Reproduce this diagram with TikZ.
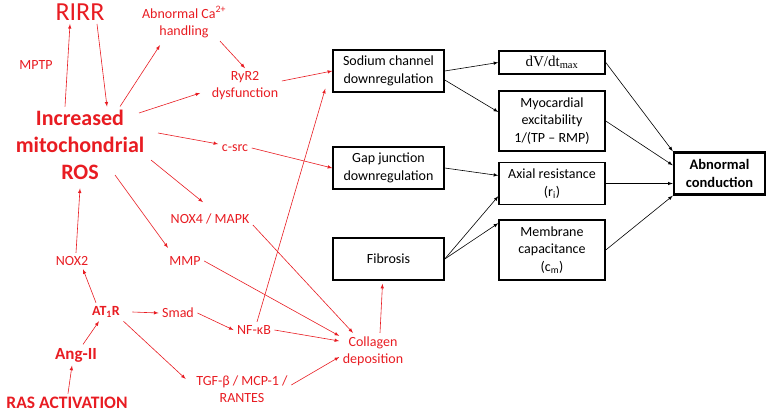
\documentclass[tikz,border=0pt]{standalone}
\usepackage{fontspec}
\setmainfont{Carlito}
\newfontfamily\timesfont{Liberation Serif}
\usetikzlibrary{arrows}
\definecolor{pathred}{RGB}{232,28,34}

\begin{document}
\begin{tikzpicture}[>=latex,x=1pt,y=-1pt,line width=0.6pt,
  redlbl/.style={text=pathred,align=center,font=\fontsize{14}{17}\selectfont},
  cellbox/.style={draw,line width=1.5pt,align=center,minimum width=111pt,minimum height=42pt,inner sep=2pt,font=\fontsize{14}{17.5}\selectfont},
  redlink/.style={->,pathred},
  blklink/.style={->,black}]
\useasboundingbox (0,0) rectangle (768,414);
\node[redlbl,font=\fontsize{26}{30}\selectfont] (rirr) at (80,12) {RIRR};
\node[redlbl] (mptp) at (36,65) {MPTP};
\node[redlbl] (ca) at (184,22) {Abnormal Ca\textsuperscript{2+}\\handling};
\node[redlbl] (ryr) at (245,86) {RyR2\\dysfunction};
\node[redlbl,font=\bfseries\fontsize{22}{27}\selectfont] (ros) at (80,145) {Increased\\mitochondrial\\ROS};
\node[redlbl] (csrc) at (235,148) {c-src};
\node[redlbl] (nox4) at (210,219) {NOX4 / MAPK};
\node[redlbl] (nox2) at (72,261) {NOX2};
\node[redlbl] (mmp) at (185,261) {MMP};
\node[redlbl,font=\bfseries\fontsize{14}{17}\selectfont] (at1r) at (106,312) {AT\textsubscript{1}R};
\node[redlbl] (smad) at (178,313) {Smad};
\node[redlbl] (nfkb) at (254,330) {NF-κB};
\node[redlbl,font=\bfseries\fontsize{17}{20}\selectfont] (ang) at (76,355) {Ang-II};
\node[redlbl] (tgf) at (242,389) {TGF-β / MCP-1 /\\RANTES};
\node[redlbl,font=\bfseries\fontsize{17.5}{21}\selectfont] (ras) at (67,403) {RAS ACTIVATION};
\node[redlbl] (col) at (373,351) {Collagen\\deposition};
\node[cellbox] (sod) at (388.5,71) {Sodium channel\\downregulation};
\node[cellbox] (gap) at (388.5,168) {Gap junction\\downregulation};
\node[cellbox] (fib) at (388.5,259) {Fibrosis};
\node[cellbox,minimum width=106pt,minimum height=23pt,font=\timesfont\fontsize{15}{17}\selectfont] (dv) at (552,62.5) {dV/dt\textsubscript{max}};
\node[cellbox,minimum width=106pt,minimum height=60pt] (myo) at (552,121) {Myocardial\\excitability\\1/(TP – RMP)};
\node[cellbox,minimum width=106pt] (ax) at (552,183.5) {Axial resistance\\(r\textsubscript{i})};
\node[cellbox,minimum width=106pt,minimum height=60pt] (mem) at (552,250) {Membrane\\capacitance\\(c\textsubscript{m})};
\node[cellbox,line width=2.5pt,minimum width=91pt,font=\bfseries\fontsize{14.5}{17.5}\selectfont] (abn) at (719.5,173.5) {Abnormal\\conduction};
% red pathway
\draw[redlink] ([xshift=-15pt]ros.north) -- ([xshift=-10pt]rirr.south);
\draw[redlink] ([xshift=17pt]rirr.south) -- ([xshift=27pt]ros.north);
\draw[redlink] ([xshift=40pt]ros.north) -- ([xshift=-24pt,yshift=-4pt]ca.south);
\draw[redlink] ([xshift=36pt]ca.south) -- (ryr.north);
\draw[redlink] ([xshift=59pt,yshift=32pt]ros.center) -- ([xshift=-8pt,yshift=-7pt]ryr.west);
\draw[redlink] ([yshift=5pt]ryr.east) -- (sod.west);
\draw[redlink] ([xshift=78pt,yshift=12pt]ros.center) -- ([yshift=4pt]csrc.west);
\draw[redlink] (csrc.east) -- (gap.west);
\draw[redlink] ([xshift=71pt,yshift=-15pt]ros.center) -- ([xshift=-7pt,yshift=8pt]nox4.north);
\draw[redlink] ([xshift=35pt,yshift=-30pt]ros.center) -- ([xshift=-17pt,yshift=5pt]mmp.north);
\draw[redlink] ([yshift=-6pt]nox4.east) -- ([xshift=-20pt]col.north);
\draw[redlink] (mmp.east) -- ([yshift=-3pt]col.north west);
\draw[redlink] (nfkb.east) -- ([yshift=10pt]col.west);
\draw[redlink] ([yshift=4pt]tgf.east) -- ([yshift=-6pt]col.west);
\draw[redlink] ([xshift=3pt]nfkb.north) -- ([xshift=-7pt,yshift=4pt]sod.south west);
\draw[redlink] ([xshift=7pt]col.north) -- ([xshift=-6pt,yshift=-3pt]fib.south);
\draw[redlink] ([xshift=4pt]nox2.north) -- ([yshift=-5pt]ros.south);
\draw[redlink] ([xshift=-10pt]at1r.north) -- ([xshift=11pt]nox2.south);
\draw[redlink] ([xshift=9pt]at1r.east) -- (smad.west);
\draw[redlink] (smad.east) -- (nfkb.west);
\draw[redlink] (at1r.south east) -- ([xshift=-7pt,yshift=-7pt]tgf.north west);
\draw[redlink] ([xshift=7pt]ang.north) -- ([xshift=-7pt]at1r.south);
\draw[redlink] ([xshift=1pt]ras.north) -- ([xshift=-4pt]ang.south);
% electrophysiology
\draw[blklink] (sod.east) -- (dv.west);
\draw[blklink] ([yshift=-9pt]sod.east) -- ([yshift=9pt]myo.west);
\draw[blklink] (gap.east) -- ([yshift=8pt]ax.west);
\draw[blklink] (fib.east) -- ([yshift=9pt]ax.south west);
\draw[blklink] (fib.east) -- ([yshift=-4pt]mem.north west);
\draw[blklink] (dv.east) -- (abn.north west);
\draw[blklink] (myo.east) -- ([yshift=-14pt]abn.north west);
\draw[blklink] (ax.east) -- ([yshift=-10pt]abn.west);
\draw[blklink] (mem.east) -- (abn.south west);
\end{tikzpicture}
\end{document}
